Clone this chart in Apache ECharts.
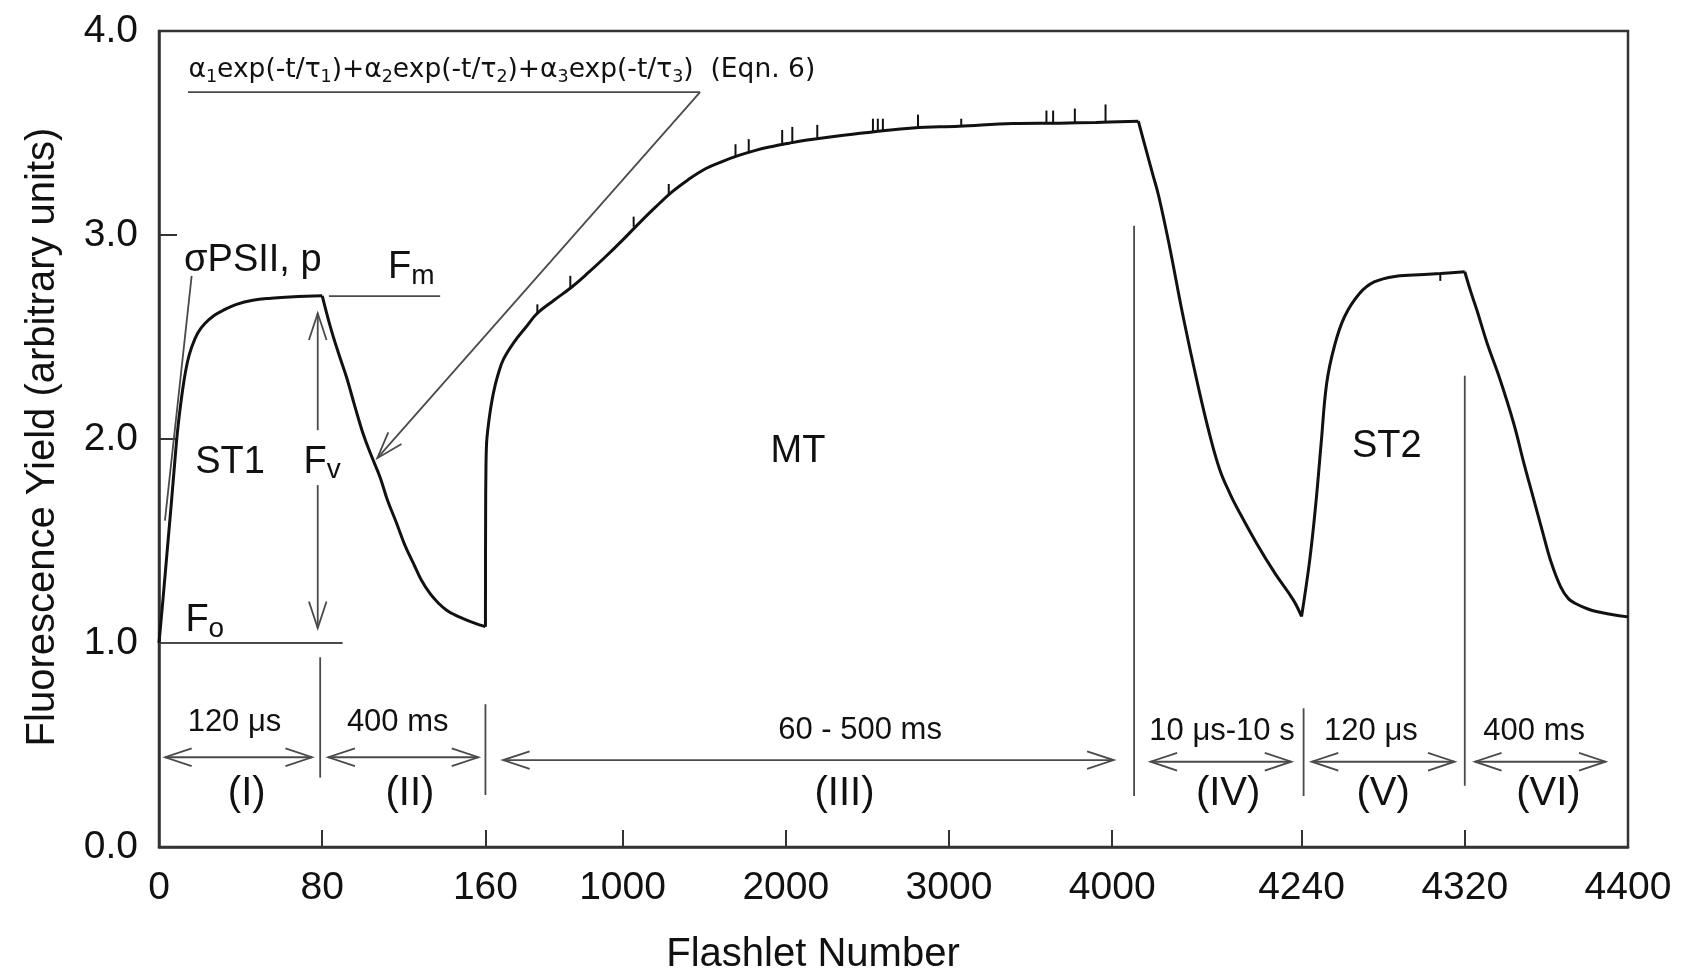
<!DOCTYPE html>
<html>
<head>
<meta charset="utf-8">
<title>Fluorescence yield vs flashlet number</title>
<script src="https://cdn.jsdelivr.net/npm/echarts@6.0.0/dist/echarts.min.js"></script>
<style>
  html, body { margin: 0; padding: 0; background: #fff; }
  #chart { width: 1685px; height: 976px; }
</style>
</head>
<body>
<div id="chart"></div>
<script>
const FONT = '"Liberation Sans", Arial, Helvetica, sans-serif';
const EQ_FONT = '"DejaVu Sans", "Liberation Sans", sans-serif';
const INK = '#111';
const GUIDE = '#4a4a4a';

// the flashlet axis is piecewise: each 80-flashlet phase gets one unit, MT (160-4160) gets four
const breakFlash = [0, 80, 160, 4160, 4240, 4320, 4400];
const breakAxis = [0, 1, 2, 6, 7, 8, 9];

const tickFlash = [0, 80, 160, 1000, 2000, 3000, 4000, 4240, 4320, 4400];
const tickLabels = ['0', '80', '160', '1000', '2000', '3000', '4000', '4240', '4320', '4400'];
const yTicks = [0, 1, 2, 3, 4];

// trace, one array per phase: [flashlet, fluorescence yield]
const st1Curve = [[0, 1.0], [2, 1.22], [4, 1.45], [6, 1.68], [8, 1.92], [9, 2.03], [10, 2.12], [12, 2.27],
  [14, 2.38], [16, 2.45], [19, 2.52], [22.5, 2.566], [27, 2.605], [31.5, 2.631], [38, 2.66], [46, 2.68],
  [55, 2.69], [64, 2.696], [72, 2.7], [80, 2.702]];
const relax1Curve = [[80, 2.702], [84, 2.55], [88, 2.42], [92, 2.3], [96, 2.16], [100, 2.027], [104, 1.92],
  [108.3, 1.814], [112, 1.7], [116.5, 1.586], [120.5, 1.48], [124.7, 1.39], [128.5, 1.31], [132.8, 1.243],
  [137, 1.195], [141, 1.161], [145, 1.138], [149, 1.12], [154, 1.1], [160, 1.08]];
const mtCurve = [[160, 1.08], [161, 1.6], [163, 1.85], [167, 1.98], [175, 2.05], [190, 2.14], [210, 2.23],
  [235, 2.31], [270, 2.39], [340, 2.48], [410, 2.55], [476, 2.615], [580, 2.68], [689, 2.745], [790, 2.815],
  [894, 2.892], [1000, 2.975], [1099, 3.056], [1200, 3.135], [1303, 3.211], [1400, 3.27], [1508, 3.325],
  [1610, 3.36], [1712, 3.39], [1815, 3.415], [1917, 3.434], [2020, 3.45], [2121, 3.464], [2330, 3.487],
  [2530, 3.505], [2779, 3.525], [3061, 3.533], [3393, 3.546], [3675, 3.548], [3900, 3.552], [4160, 3.558]];
const relax2Curve = [[4160, 3.558], [4164, 3.41], [4167, 3.3], [4170, 3.19], [4175, 2.958], [4182, 2.598],
  [4189, 2.272], [4195, 2.02], [4200, 1.847], [4205, 1.73], [4209, 1.651], [4218, 1.488], [4227, 1.341],
  [4236, 1.21], [4240, 1.13]];
const st2Curve = [[4240, 1.13], [4244, 1.406], [4247, 1.684], [4249.6, 1.978], [4252.3, 2.272], [4256, 2.451],
  [4261, 2.598], [4268.4, 2.713], [4275.6, 2.77], [4286.4, 2.798], [4300, 2.806], [4308, 2.811], [4320, 2.82]];
const relax3Curve = [[4320, 2.82], [4323, 2.72], [4326, 2.63], [4331, 2.468], [4337, 2.3], [4344, 2.076],
  [4349, 1.88], [4353, 1.733], [4358, 1.55], [4362, 1.406], [4367, 1.275], [4371, 1.215], [4375, 1.19],
  [4380, 1.168], [4385, 1.153], [4392, 1.14], [4400, 1.128]];
const phaseCurves = [st1Curve, relax1Curve, mtCurve, relax2Curve, st2Curve, relax3Curve];

// short noise spikes on the trace: [flashlet, trace level, spike tip]
const traceSpikes = [[478, 2.61, 2.66], [680, 2.74, 2.8], [1068, 3.04, 3.09], [1283, 3.2, 3.25],
  [1692, 3.385, 3.445], [1773, 3.4, 3.47], [1978, 3.44, 3.515], [2040, 3.45, 3.53], [2193, 3.47, 3.54],
  [2534, 3.507, 3.57], [2564, 3.51, 3.57], [2595, 3.512, 3.57], [2810, 3.527, 3.59], [3075, 3.535, 3.57],
  [3597, 3.548, 3.61], [3638, 3.548, 3.61], [3771, 3.55, 3.62], [3959, 3.553, 3.64], [4308, 2.811, 2.775]];

// phase boundaries: [flashlet, yield bottom, yield top]
const phaseLines = [[79, 0.34, 0.93], [160, 0.255, 0.7], [4134, 0.25, 3.045], [4241, 0.25, 0.68], [4320, 0.3, 2.31]];
// phase duration arrows: [from, to, yield]
const spanArrows = [[3, 75, 0.44], [83, 156.5, 0.44], [268, 4009, 0.426], [4166, 4235, 0.418],
  [4245, 4315, 0.418], [4325, 4389, 0.418]];
const spanLabels = ['120 μs', '400 ms', '60 - 500 ms', '10 μs-10 s', '120 μs', '400 ms'];
const spanLabelFlash = [37, 117, 2455, 4201, 4274, 4354];
const spanLabelYield = [0.61, 0.61, 0.573, 0.568, 0.568, 0.568];
const phaseNames = ['(I)', '(II)', '(III)', '(IV)', '(V)', '(VI)'];
const phaseNameFlash = [43, 123, 2360, 4204, 4280, 4361];
const phaseNameYield = 0.262;

// guide lines: [f1, y1, f2, y2, arrow at start, arrow at end]
const guideLines = [
  [0, 1.0, 90, 1.0, 0, 0],          // Fo level
  [83.3, 2.70, 137.8, 2.70, 0, 0],   // Fm level
  [77.8, 2.043, 77.8, 2.616, 0, 1],  // Fv arrow, upper part
  [77.8, 1.774, 77.8, 1.073, 0, 1],  // Fv arrow, lower part
  [16, 2.80, 2.9, 1.60, 0, 0],       // sigma PSII pointer
  [14.2, 3.70, 1475, 3.70, 0, 0],    // equation underline
  [1475, 3.70, 107, 1.906, 0, 1]     // equation pointer
];

const eqText = '{e|α}{es|1}{e|exp(-t/τ}{es|1}{e|)+α}{es|2}{e|exp(-t/τ}{es|2}{e|)+α}{es|3}{e|exp(-t/τ}{es|3}{e|)  (Eqn. 6)}';
const noteText = ['{n|ST1}', '{n|MT}', '{n|ST2}', '{n|F}{s|v}', '{n|F}{s|m}', '{n|F}{s|o}', '{n|σPSII, p}', eqText];
const noteFlash = [34.8, 2075, 4281.8, 70.6, 112, 12.7, 46, 14.2];
const noteYield = [1.884, 1.94, 1.965, 1.886, 2.84, 1.11, 2.876, 3.81];
const noteAlign = ['center', 'center', 'center', 'left', 'left', 'left', 'center', 'left'];

function toAxis(f) {
  for (let i = 1; i < breakFlash.length; i++) {
    if (f <= breakFlash[i] || i === breakFlash.length - 1) {
      const f0 = breakFlash[i - 1], f1 = breakFlash[i];
      return breakAxis[i - 1] + (f - f0) / (f1 - f0) * (breakAxis[i] - breakAxis[i - 1]);
    }
  }
}

const tickAxis = tickFlash.map(toAxis);

const annoData = [];
phaseLines.forEach(l => annoData.push([toAxis(l[0]), l[1], toAxis(l[0]), l[2], 0, 0]));
spanArrows.forEach(a => annoData.push([toAxis(a[0]), a[2], toAxis(a[1]), a[2], 1, 1]));
guideLines.forEach(g => annoData.push([toAxis(g[0]), g[1], toAxis(g[2]), g[3], g[4], g[5]]));

const rich = {
  n: { fontSize: 38, lineHeight: 45, fontFamily: FONT, color: INK },
  s: { fontSize: 28, lineHeight: 18, verticalAlign: 'bottom', fontFamily: FONT, color: INK },
  e: { fontSize: 26.5, lineHeight: 34, fontFamily: EQ_FONT, color: INK },
  es: { fontSize: 17.5, lineHeight: 16, verticalAlign: 'bottom', fontFamily: EQ_FONT, color: INK },
  t: { fontSize: 31, lineHeight: 36, fontFamily: FONT, color: INK },
  r: { fontSize: 40, lineHeight: 46, fontFamily: FONT, color: INK }
};

const labelData = [];
noteText.forEach((t, i) => labelData.push({
  value: [toAxis(noteFlash[i]), noteYield[i]],
  label: { formatter: t, position: noteAlign[i] === 'left' ? 'right' : 'inside', distance: 0 }
}));
spanLabels.forEach((t, i) => labelData.push({
  value: [toAxis(spanLabelFlash[i]), spanLabelYield[i]],
  label: { formatter: '{t|' + t + '}', position: 'inside' }
}));
phaseNames.forEach((t, i) => labelData.push({
  value: [toAxis(phaseNameFlash[i]), phaseNameYield],
  label: { formatter: '{r|' + t + '}', position: 'inside' }
}));

function arrowHead(tip, from) {
  const ang = Math.atan2(from[1] - tip[1], from[0] - tip[0]);
  const len = 28, spread = 0.32;
  return {
    type: 'polyline',
    shape: { points: [
      [tip[0] + len * Math.cos(ang + spread), tip[1] + len * Math.sin(ang + spread)],
      [tip[0], tip[1]],
      [tip[0] + len * Math.cos(ang - spread), tip[1] + len * Math.sin(ang - spread)]
    ] },
    style: { stroke: GUIDE, lineWidth: 1.8, fill: 'none' }
  };
}

const traceSeries = phaseCurves.map(c => ({
  name: 'Fluorescence yield', type: 'line', z: 4, symbol: 'none', smooth: 0.4,
  data: c.map(p => [toAxis(p[0]), p[1]]),
  lineStyle: { color: '#111', width: 3 }
}));

const chart = echarts.init(document.getElementById('chart'));
chart.setOption({
  backgroundColor: '#fff',
  animation: false,
  grid: { left: 159, right: 57, top: 31, bottom: 129, show: true, borderColor: '#333', borderWidth: 2.5 },
  xAxis: {
    type: 'value', min: 0, max: 9,
    axisLine: { show: true, lineStyle: { color: '#333', width: 2.5 } },
    axisTick: { inside: true, length: 17, customValues: tickAxis, lineStyle: { color: '#333', width: 2 } },
    axisLabel: {
      customValues: tickAxis, margin: 22, fontSize: 39, fontFamily: FONT, color: INK,
      formatter: v => {
        const i = tickAxis.findIndex(t => Math.abs(t - v) < 1e-6);
        return i >= 0 ? tickLabels[i] : '';
      }
    },
    splitLine: { show: false }
  },
  yAxis: {
    type: 'value', min: 0, max: 4, interval: 1,
    axisLine: { show: true, lineStyle: { color: '#333', width: 2.5 } },
    axisTick: { inside: true, length: 18, lineStyle: { color: '#333', width: 2 } },
    axisLabel: {
      margin: 21, fontSize: 39, fontFamily: FONT, color: INK,
      formatter: v => yTicks.indexOf(v) >= 0 ? v.toFixed(1) : ''
    },
    splitLine: { show: false }
  },
  graphic: [
    {
      type: 'text', x: 813, y: 955, silent: true,
      style: { text: 'Flashlet Number', font: '40px ' + FONT, fill: INK,
        align: 'center', verticalAlign: 'middle', textAlign: 'center', textVerticalAlign: 'middle' }
    },
    {
      type: 'text', x: 43, y: 437, rotation: Math.PI / 2, silent: true,
      style: { text: 'Fluorescence Yield (arbitrary units)', font: '40px ' + FONT, fill: INK,
        align: 'center', verticalAlign: 'middle', textAlign: 'center', textVerticalAlign: 'middle' }
    }
  ],
  series: traceSeries.concat([
    {
      type: 'custom', z: 4, silent: true,
      data: traceSpikes.map(s => [toAxis(s[0]), s[1], s[2]]),
      encode: { x: 0, y: [1, 2] },
      renderItem: (params, api) => {
        const a = api.coord([api.value(0), api.value(1)]);
        const b = api.coord([api.value(0), api.value(2)]);
        return { type: 'line', shape: { x1: a[0], y1: a[1], x2: b[0], y2: b[1] },
          style: { stroke: '#111', lineWidth: 2 } };
      }
    },
    {
      type: 'custom', z: 3, silent: true, clip: false,
      data: annoData,
      encode: { x: [0, 2], y: [1, 3] },
      renderItem: (params, api) => {
        const p1 = api.coord([api.value(0), api.value(1)]);
        const p2 = api.coord([api.value(2), api.value(3)]);
        const children = [{ type: 'line', shape: { x1: p1[0], y1: p1[1], x2: p2[0], y2: p2[1] },
          style: { stroke: GUIDE, lineWidth: 1.8 } }];
        if (api.value(4)) children.push(arrowHead(p1, p2));
        if (api.value(5)) children.push(arrowHead(p2, p1));
        return { type: 'group', children: children };
      }
    },
    {
      type: 'scatter', z: 5, silent: true, symbolSize: 1,
      itemStyle: { color: 'rgba(0,0,0,0)', opacity: 1 },
      label: { show: true, rich: rich, color: INK, opacity: 1 },
      data: labelData
    }
  ])
});
</script>
</body>
</html>
